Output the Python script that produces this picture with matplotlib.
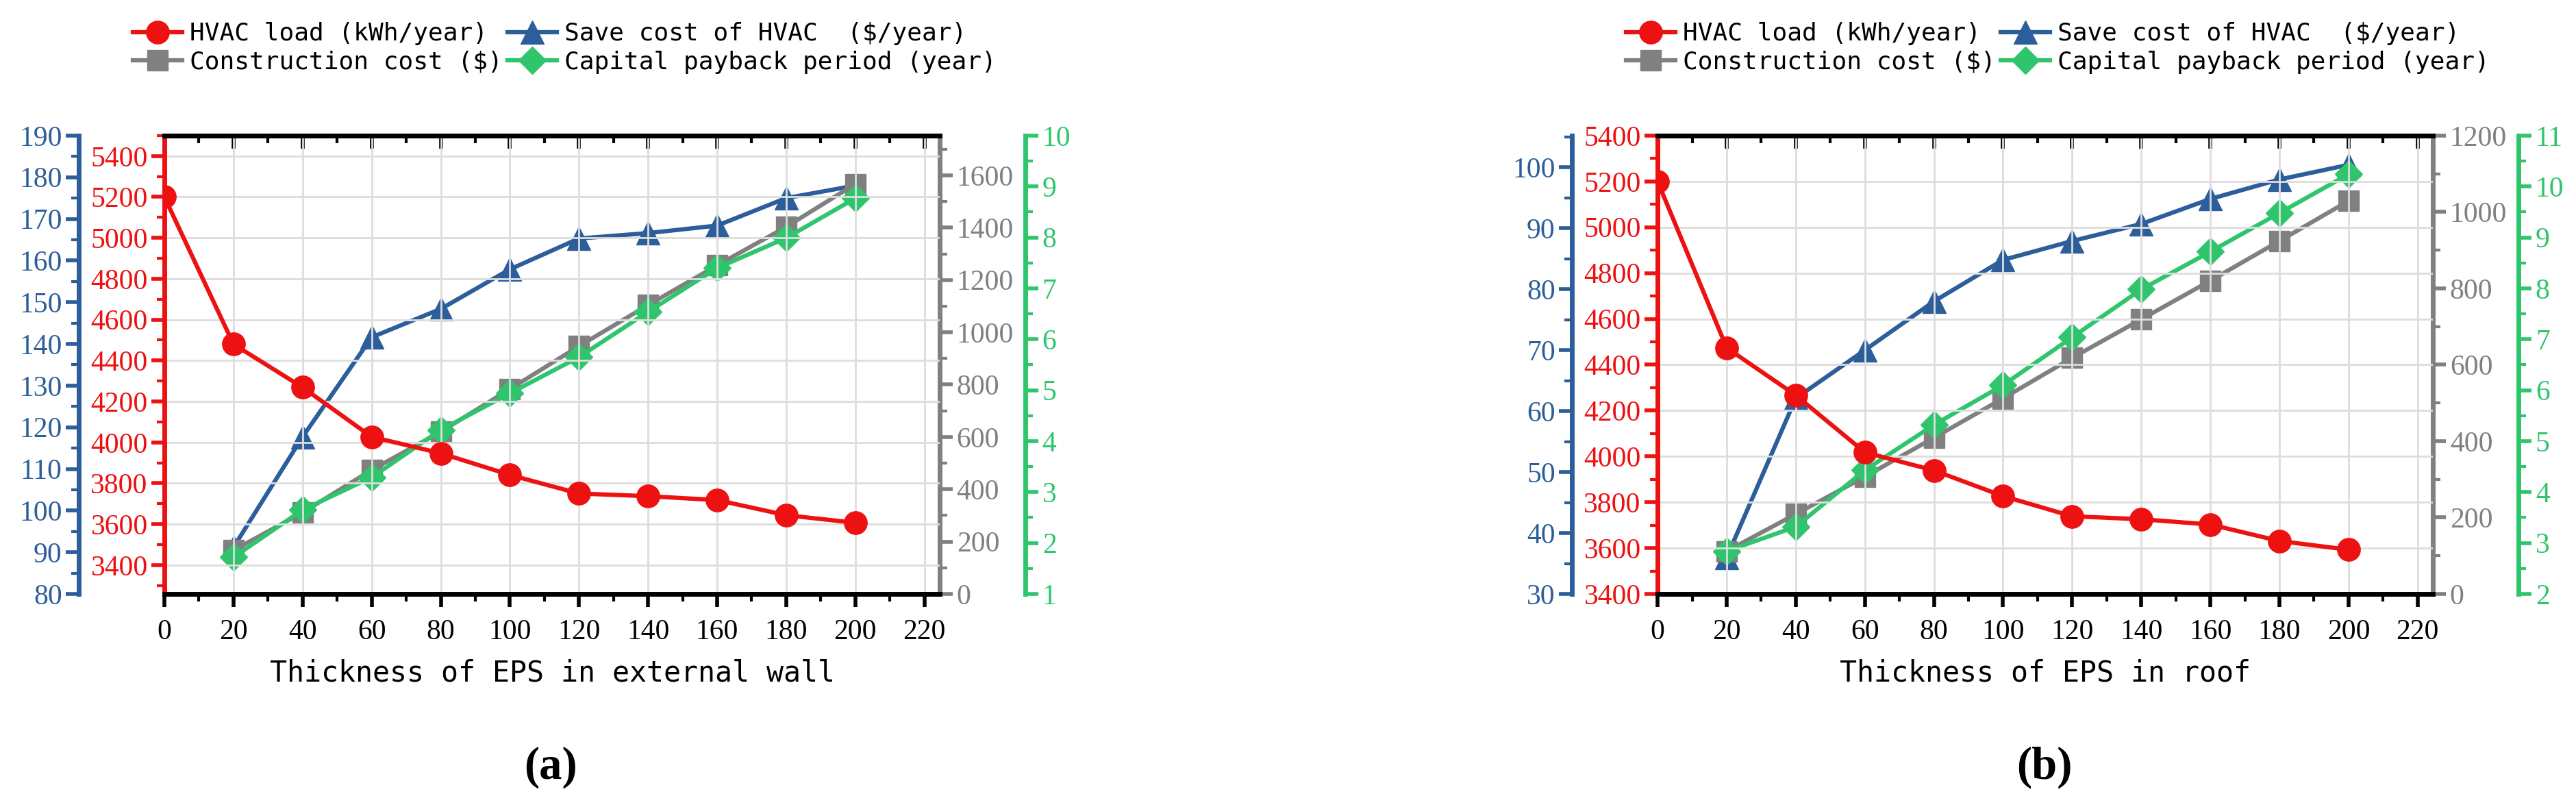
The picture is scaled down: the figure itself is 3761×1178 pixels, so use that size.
import matplotlib
matplotlib.use("Agg")
import matplotlib.pyplot as plt
from matplotlib.ticker import MultipleLocator, AutoMinorLocator
from matplotlib.lines import Line2D

plt.rcParams['font.family'] = ['Liberation Sans Narrow', 'Liberation Serif', 'DejaVu Sans']

RED = '#EE1111'
BLUE = '#2C5E9B'
GRAY = '#808080'
GREEN = '#2FC56C'

x_load = [0, 20, 40, 60, 80, 100, 120, 140, 160, 180, 200]
x_other = [20, 40, 60, 80, 100, 120, 140, 160, 180, 200]

# panel (a): external wall
wall_load = [5200, 4480, 4269, 4027, 3947, 3841, 3750, 3737, 3718, 3644, 3607]
wall_save = [91.2, 117.7, 141.6, 148.4, 157.9, 165.3, 166.6, 168.4, 175.0, 178.0]
wall_cost = [167, 311, 474, 620, 783, 947, 1104, 1256, 1403, 1567]
wall_payback = [1.72, 2.65, 3.29, 4.22, 4.94, 5.65, 6.54, 7.40, 7.99, 8.77]

# panel (b): roof
roof_load = [5200, 4474, 4267, 4018, 3939, 3827, 3739, 3726, 3703, 3631, 3593]
roof_save = [36.0, 62.1, 70.0, 78.0, 84.8, 87.9, 90.7, 94.8, 98.0, 100.4]
roof_cost = [112, 209, 307, 409, 512, 618, 719, 820, 924, 1029]
roof_payback = [2.84, 3.32, 4.43, 5.32, 6.10, 7.04, 7.98, 8.72, 9.48, 10.24]

labels = ['HVAC load (kWh/year)', 'Save cost of HVAC  ($/year)',
          'Construction cost ($)', 'Capital payback period (year)']

FS = 30
LW = 4.5
MS = 24
OFF = 90

fig = plt.figure(figsize=(37.62, 11.78), dpi=100)


def style_axis(a, color, side, lo, hi, step):
    a.set_ylim(lo, hi)
    a.yaxis.set_major_locator(MultipleLocator(step))
    a.yaxis.set_minor_locator(AutoMinorLocator(2))
    a.tick_params(axis='y', which='major', colors=color, labelcolor=color,
                  labelsize=FS, length=14, width=4, direction='out')
    a.tick_params(axis='y', which='minor', colors=color, length=8, width=3, direction='out')
    a.spines[side].set_color(color)
    a.spines[side].set_linewidth(5)


def draw_panel(left, load, save, cost, payback, blue_lim, red_lim, gray_lim, green_lim, xlabel, tag):
    ax = fig.add_axes([left, 0.264, 0.301, 0.568])
    ax.plot(x_load, load, color=RED, lw=LW, marker='o', ms=MS, zorder=5)
    ax.set_xlim(0, 224.5)
    ax.xaxis.set_major_locator(MultipleLocator(20))
    ax.xaxis.set_minor_locator(AutoMinorLocator(2))
    ax.tick_params(axis='x', which='major', labelsize=FS, length=14, width=4, direction='out', pad=12)
    ax.tick_params(axis='x', which='minor', length=8, width=3, direction='out')
    style_axis(ax, RED, 'left', *red_lim)
    ax.spines['right'].set_visible(False)
    for s in ('top', 'bottom'):
        ax.spines[s].set_linewidth(5)
    ax.grid(True, color='#DDDDDD', lw=2)
    ax.set_axisbelow(True)
    ax.set_xlabel(xlabel, fontsize=FS, family=['DejaVu Sans Mono'], labelpad=14)
    top = ax.secondary_xaxis('top')
    top.xaxis.set_major_locator(MultipleLocator(20))
    top.xaxis.set_minor_locator(AutoMinorLocator(2))
    top.tick_params(which='major', direction='in', length=14, width=4, labeltop=False, color='black')
    top.tick_params(which='minor', direction='in', length=8, width=3, color='black')
    top.spines['top'].set_linewidth(5)

    axb = ax.twinx()
    axb.plot(x_other, save, color=BLUE, lw=LW, marker='^', ms=MS, zorder=3)
    axb.spines['left'].set_position(('outward', OFF))
    axb.spines['left'].set_visible(True)
    axb.spines['right'].set_visible(False)
    axb.yaxis.set_ticks_position('left')
    style_axis(axb, BLUE, 'left', *blue_lim)

    axg = ax.twinx()
    axg.plot(x_other, cost, color=GRAY, lw=LW, marker='s', ms=MS - 3, zorder=3)
    style_axis(axg, GRAY, 'right', *gray_lim)

    axn = ax.twinx()
    axn.plot(x_other, payback, color=GREEN, lw=LW, marker='D', ms=MS - 4, zorder=3)
    axn.spines['right'].set_position(('outward', OFF))
    style_axis(axn, GREEN, 'right', *green_lim)

    for a in (axb, axg, axn):
        a.spines['top'].set_visible(False)
        a.spines['bottom'].set_visible(False)
    ax.set_zorder(axn.get_zorder() + 1)
    ax.patch.set_visible(False)

    handles = [Line2D([], [], color=RED, lw=LW, marker='o', ms=MS),
               Line2D([], [], color=GRAY, lw=LW, marker='s', ms=MS - 3),
               Line2D([], [], color=BLUE, lw=LW, marker='^', ms=MS),
               Line2D([], [], color=GREEN, lw=LW, marker='D', ms=MS - 4)]
    order = [labels[0], labels[2], labels[1], labels[3]]
    fig.legend(handles, order, ncol=2, loc='upper left',
               bbox_to_anchor=(left - 0.021, 1.0), frameon=False,
               prop={'family': 'DejaVu Sans Mono', 'size': 26},
               handlelength=2.0, handletextpad=0.3, columnspacing=0.2, labelspacing=0.2)
    fig.text(left + 0.15, 0.035, tag, ha='center', fontsize=48, fontweight='bold',
             family=['Liberation Serif'])


draw_panel(0.0638, wall_load, wall_save, wall_cost, wall_payback,
           (80, 190, 10), (3259, 5500, 200), (0, 1752, 200), (1, 10, 1),
           'Thickness of EPS in external wall', '(a)')
draw_panel(0.6433, roof_load, roof_save, roof_cost, roof_payback,
           (30, 105.2, 10), (3400, 5400, 200), (0, 1200, 200), (2, 11, 1),
           'Thickness of EPS in roof', '(b)')

fig.savefig('out.png', dpi=100)
